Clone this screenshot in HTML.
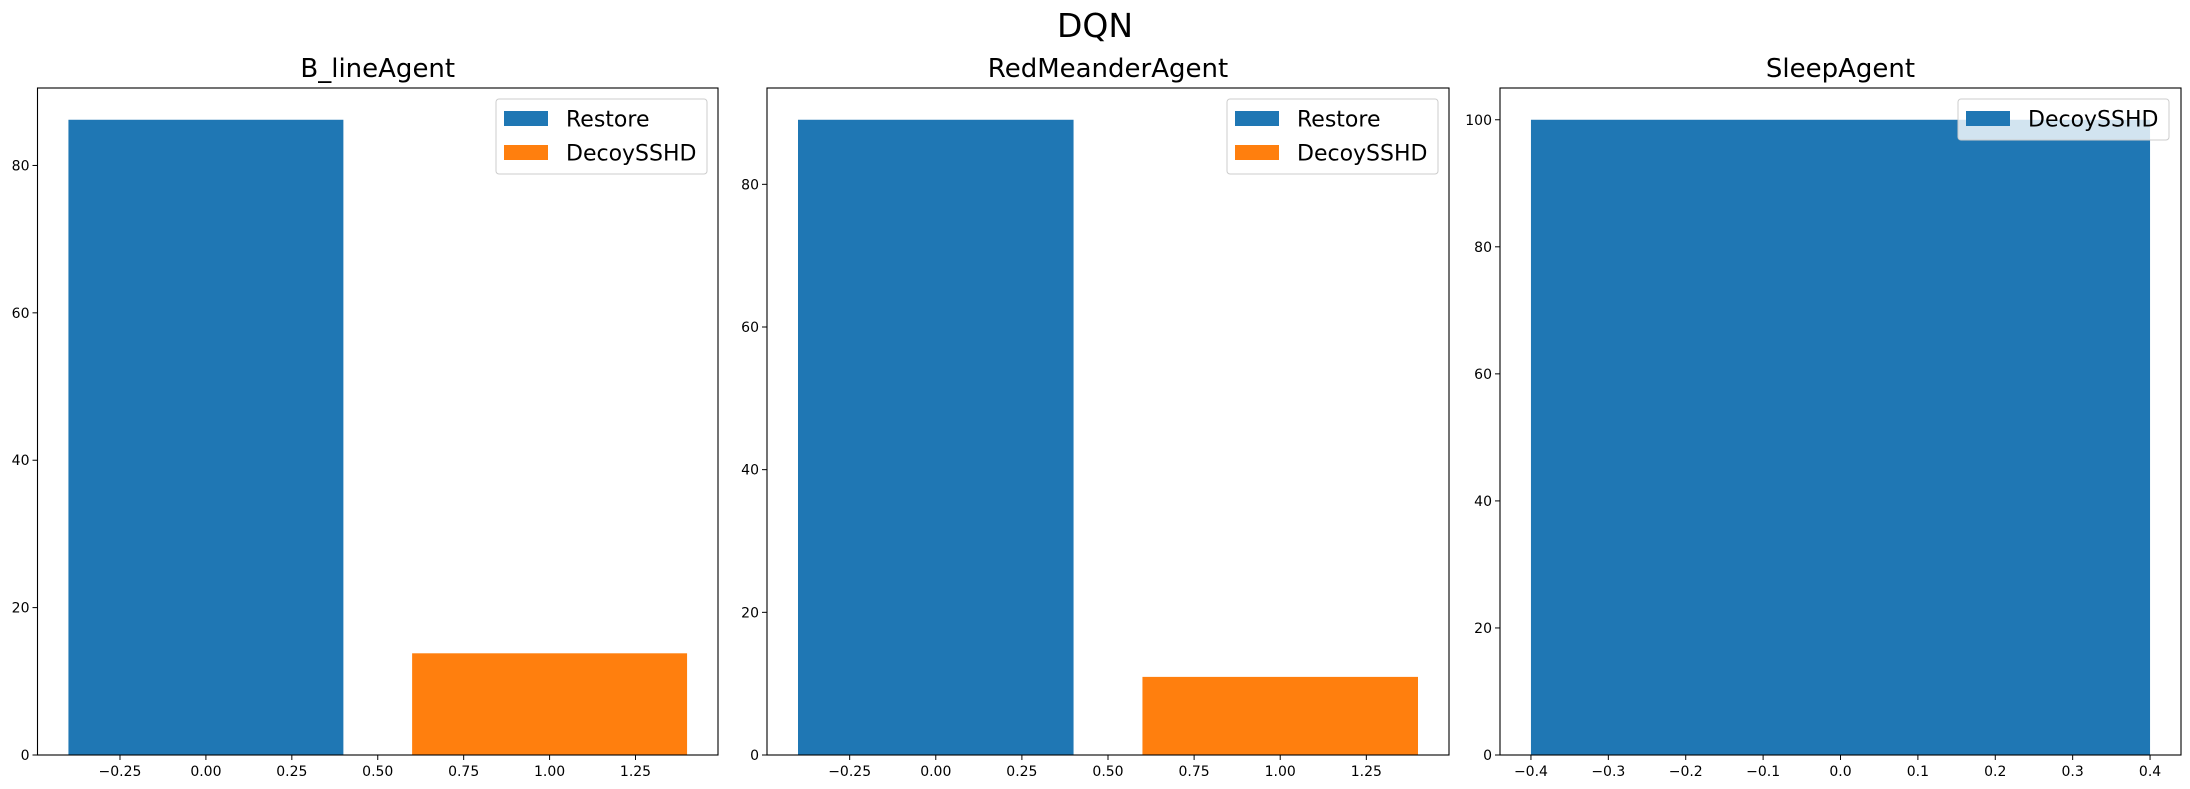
<!DOCTYPE html>
<html><head><meta charset="utf-8"><style>
html,body{margin:0;padding:0;background:#fff;}
svg{display:block;font-family:"DejaVu Sans","Liberation Sans",sans-serif;}
</style></head><body>
<svg id="fig" width="2190" height="789" viewBox="0 0 2190 789" xmlns="http://www.w3.org/2000/svg">
<rect width="2190" height="789" fill="#fff"/>
<text x="1095" y="37" font-size="33" text-anchor="middle" fill="#000">DQN</text>
</svg>
<script>
const panelTitles = ["B_lineAgent", "RedMeanderAgent", "SleepAgent"];
const seriesLabels = [["Restore", "DecoySSHD"], ["Restore", "DecoySSHD"], ["DecoySSHD"]];
const restoreValues = [86.2, 89.05];
const decoyValues = [13.8, 10.95, 100];
const xTicks12 = [-0.25, 0, 0.25, 0.5, 0.75, 1, 1.25];
const xTickLabels12 = ["\u22120.25", "0.00", "0.25", "0.50", "0.75", "1.00", "1.25"];
const xTicks3 = [-0.4, -0.3, -0.2, -0.1, 0, 0.1, 0.2, 0.3, 0.4];
const xTickLabels3 = ["\u22120.4", "\u22120.3", "\u22120.2", "\u22120.1", "0.0", "0.1", "0.2", "0.3", "0.4"];
const yTicks12 = [0, 20, 40, 60, 80];
const yTicks3 = [0, 20, 40, 60, 80, 100];

const NS = "http://www.w3.org/2000/svg";
const svg = document.getElementById("fig");
const BLUE = "#1f77b4", ORANGE = "#ff7f0e";
function mk(tag, attrs, parent) {
  const e = document.createElementNS(NS, tag);
  for (const k in attrs) e.setAttribute(k, attrs[k]);
  (parent || svg).appendChild(e);
  return e;
}
const layout = [{l:37.5,r:718}, {l:767,r:1449}, {l:1500,r:2181}];
const yTop = 88, yBot = 755;

layout.forEach((p, i) => {
  const g = mk("g", {});
  
  
  let bars, xt, xl, yt, ymax, xmin, xmax;
  if (i < 2) {
    bars = [{x:0, v:restoreValues[i], c:BLUE, n:'restore'}, {x:1, v:decoyValues[i], c:ORANGE, n:'decoysshd'}];
    xt = xTicks12; xl = xTickLabels12; yt = yTicks12;
    xmin = -0.49; xmax = 1.49;
  } else {
    bars = [{x:0, v:decoyValues[2], c:BLUE, n:'decoysshd'}];
    xt = xTicks3; xl = xTickLabels3; yt = yTicks3;
    xmin = -0.44; xmax = 0.44;
  }
  ymax = Math.max(...bars.map(b => b.v)) * 1.05;
  const sx = v => p.l + (v - xmin) / (xmax - xmin) * (p.r - p.l);
  const sy = v => yBot - v / ymax * (yBot - yTop);

  bars.forEach(b => {
    const r = mk("rect", {x: sx(b.x - 0.4), y: sy(b.v), width: sx(b.x + 0.4) - sx(b.x - 0.4), height: yBot - sy(b.v), fill: b.c}, g);
    
    
  });
  mk("rect", {x: p.l, y: yTop, width: p.r - p.l, height: yBot - yTop, fill: "none", stroke: "#000", "stroke-width": 1.1}, g);

  xt.forEach((t, j) => {
    const x = sx(t);
    mk("line", {x1: x, x2: x, y1: yBot, y2: yBot + 5, stroke: "#000", "stroke-width": 1}, g);
    const tx = mk("text", {x: x, y: yBot + 21, "font-size": 14, "text-anchor": "middle"}, g);
    tx.textContent = xl[j];
    
    
  });
  yt.forEach(t => {
    const y = sy(t);
    mk("line", {x1: p.l - 5, x2: p.l, y1: y, y2: y, stroke: "#000", "stroke-width": 1}, g);
    const tx = mk("text", {x: p.l - 8, y: y + 5, "font-size": 14, "text-anchor": "end"}, g);
    tx.textContent = String(t);
    
    
  });
  const tt = mk("text", {x: (p.l + p.r) / 2, y: 77, "font-size": 26, "text-anchor": "middle"}, g);
  tt.textContent = panelTitles[i];
  
  

  const labels = seriesLabels[i];
  const lw = 211, lh = labels.length === 2 ? 75 : 41;
  const lx = p.r - (i === 2 ? 12 : 11) - lw, ly = 99;
  const lg = mk("g", {}, g);
  
  
  mk("rect", {x: lx, y: ly, width: lw, height: lh, rx: 3, fill: "#fff", "fill-opacity": 0.8, stroke: "#ccc", "stroke-width": 1}, lg);
  labels.forEach((lab, k) => {
    const cy = ly + 19.5 + k * 34;
    const col = (i === 2) ? BLUE : (k === 0 ? BLUE : ORANGE);
    const sw = mk("rect", {x: lx + 8, y: cy - 7.5, width: 44, height: 15, fill: col}, lg);
    
    
    const lt = mk("text", {x: lx + 70, y: cy + 8, "font-size": 22}, lg);
    lt.textContent = lab;
    
    
  });
});
</script>
</body></html>
